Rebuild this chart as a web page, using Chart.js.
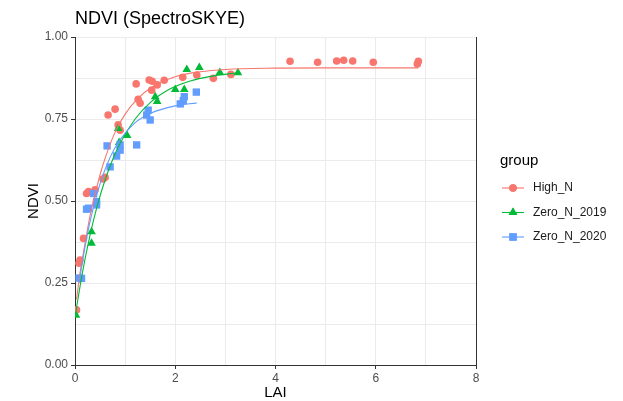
<!DOCTYPE html>
<html>
<head>
<meta charset="utf-8">
<script src="https://cdn.jsdelivr.net/npm/chart.js@4/dist/chart.umd.min.js"></script>
<style>
  html, body { margin: 0; padding: 0; background: #fff; }
  #wrap { width: 623px; height: 401px; }
</style>
</head>
<body>
<div id="wrap"><canvas id="ndvi" width="623" height="401"></canvas></div>
<script>
// NDVI vs LAI, three groups with fitted curves

const groups = ['High_N', 'Zero_N_2019', 'Zero_N_2020'];
const groupColors = ['#F8766D', '#00BA38', '#619CFF'];
const groupShapes = ['circle', 'triangle', 'rect'];

// observed points (LAI, NDVI)
const highLAI = [0.03, 0.08, 0.10, 0.17, 0.23, 0.27, 0.40, 0.56, 0.60, 0.66, 0.80, 0.86, 0.90,
  1.22, 1.26, 1.30, 1.48, 1.53, 1.54, 1.64, 1.78, 2.15, 2.43, 2.76, 3.11,
  4.29, 4.84, 5.22, 5.36, 5.54, 5.95, 6.83, 6.85];
const highNDVI = [0.168, 0.31, 0.32, 0.386, 0.523, 0.529, 0.534, 0.567, 0.572, 0.762, 0.78, 0.732, 0.716,
  0.857, 0.81, 0.798, 0.869, 0.838, 0.865, 0.854, 0.868, 0.877, 0.884, 0.874, 0.886,
  0.926, 0.923, 0.927, 0.929, 0.927, 0.923, 0.918, 0.926];

const zero19LAI = [0.02, 0.33, 0.33, 0.86, 0.88, 1.04, 1.60, 1.64, 2.00, 2.18, 2.23, 2.48, 2.89, 3.25];
const zero19NDVI = [0.152, 0.406, 0.371, 0.721, 0.678, 0.70, 0.818, 0.803, 0.84, 0.84, 0.901, 0.907, 0.892, 0.891];

const zero20LAI = [0.08, 0.13, 0.23, 0.27, 0.37, 0.43, 0.43, 0.64, 0.70, 0.83, 0.90, 0.90, 1.23,
  1.43, 1.46, 1.50, 2.10, 2.16, 2.18, 2.42];
const zero20NDVI = [0.265, 0.264, 0.475, 0.478, 0.523, 0.498, 0.488, 0.668, 0.604, 0.637, 0.655, 0.671, 0.671,
  0.762, 0.777, 0.747, 0.796, 0.806, 0.818, 0.832];

// fitted curves
const highFitLAI = [0.03, 0.1, 0.2, 0.3, 0.4, 0.5, 0.6, 0.8, 1.0, 1.25, 1.5, 2.0, 2.5, 3.0, 4.0, 5.0, 6.85];
const highFitNDVI = [0.20, 0.28, 0.37, 0.455, 0.52, 0.58, 0.63, 0.71, 0.765, 0.812, 0.844, 0.879, 0.894, 0.901, 0.905, 0.906, 0.906];

const zero19FitLAI = [0.02, 0.15, 0.3, 0.45, 0.6, 0.75, 0.9, 1.2, 1.5, 1.9, 2.3, 2.7, 3.25];
const zero19FitNDVI = [0.165, 0.283, 0.396, 0.489, 0.564, 0.626, 0.676, 0.75, 0.80, 0.842, 0.866, 0.88, 0.891];

const zero20FitLAI = [0.08, 0.2, 0.3, 0.5, 0.7, 0.9, 1.2, 1.5, 2.0, 2.43];
const zero20FitNDVI = [0.25, 0.36, 0.437, 0.553, 0.633, 0.687, 0.739, 0.767, 0.79, 0.799];

const FONT = "'Liberation Sans', Arial, sans-serif";

function pairs(xs, ys) {
  return xs.map((x, i) => ({ x, y: ys[i] }));
}

function fitSet(xs, ys, idx) {
  return {
    label: groups[idx] + ' fit',
    data: pairs(xs, ys),
    showLine: true,
    borderColor: groupColors[idx],
    borderWidth: 1.1,
    pointRadius: 0,
    tension: 0.4,
    cubicInterpolationMode: 'monotone'
  };
}

function pointSet(xs, ys, idx, r) {
  return {
    label: groups[idx],
    data: pairs(xs, ys),
    showLine: false,
    pointStyle: groupShapes[idx],
    pointRadius: r,
    pointBorderWidth: 0,
    pointBackgroundColor: groupColors[idx],
    pointBorderColor: groupColors[idx]
  };
}

// title, legend and right border drawn on the canvas
const extras = {
  id: 'extras',
  afterDraw(chart) {
    const ctx = chart.ctx;
    const area = chart.chartArea;
    ctx.save();
    ctx.strokeStyle = '#333333';
    ctx.lineWidth = 1;
    ctx.beginPath();
    ctx.moveTo(area.right + 0.5, area.top);
    ctx.lineTo(area.right + 0.5, area.bottom + 4);
    ctx.stroke();

    ctx.fillStyle = '#000';
    ctx.textBaseline = 'middle';
    ctx.textAlign = 'left';
    ctx.font = '18px ' + FONT;
    ctx.fillText('NDVI (SpectroSKYE)', 75, 19);

    ctx.font = '15px ' + FONT;
    ctx.fillText('group', 500, 161);

    const ys = [188, 212.5, 237];
    const sizes = [3.8, 5, 5.2];
    groups.forEach((g, i) => {
      const y = ys[i];
      ctx.strokeStyle = groupColors[i];
      ctx.lineWidth = 1.1;
      ctx.beginPath();
      ctx.moveTo(502, y);
      ctx.lineTo(524, y);
      ctx.stroke();
      ctx.fillStyle = groupColors[i];
      Chart.helpers.drawPoint(ctx, { pointStyle: groupShapes[i], radius: sizes[i], borderWidth: 0 }, 513, y);
      ctx.fill();
      ctx.fillStyle = '#1a1a1a';
      ctx.font = '12px ' + FONT;
      ctx.fillText(g, 533, y);
    });
    ctx.restore();
  }
};

new Chart(document.getElementById('ndvi'), {
  type: 'scatter',
  data: {
    datasets: [
      fitSet(zero20FitLAI, zero20FitNDVI, 2),
      fitSet(zero19FitLAI, zero19FitNDVI, 1),
      fitSet(highFitLAI, highFitNDVI, 0),
      pointSet(zero20LAI, zero20NDVI, 2, 5.2),
      pointSet(zero19LAI, zero19NDVI, 1, 5),
      pointSet(highLAI, highNDVI, 0, 3.8)
    ]
  },
  options: {
    responsive: false,
    animation: false,
    devicePixelRatio: 1,
    layout: { padding: { top: 37, right: 147, bottom: 0, left: 0 } },
    plugins: { legend: { display: false }, tooltip: { enabled: false } },
    scales: {
      x: {
        type: 'linear', min: 0, max: 8,
        afterFit(scale) { scale.height = 36; },
        ticks: {
          stepSize: 1, color: '#4d4d4d', padding: 2, maxRotation: 0,
          font: { family: FONT, size: 12 },
          callback: v => (v % 2 === 0 ? String(v) : '')
        },
        grid: {
          color: '#ebebeb', lineWidth: 1, tickLength: 4,
          tickColor: c => (c.tick && c.tick.value % 2 === 0 ? '#333333' : 'rgba(0,0,0,0)')
        },
        border: { color: '#333333', width: 1 },
        title: {
          display: true, text: 'LAI', color: '#000',
          font: { family: FONT, size: 15 }, padding: { top: 0, bottom: -1 }
        }
      },
      y: {
        type: 'linear', min: 0, max: 1,
        afterFit(scale) { scale.width = 75; },
        ticks: {
          stepSize: 0.125, color: '#4d4d4d', padding: 3,
          font: { family: FONT, size: 12 },
          callback: v => (Math.abs(v * 4 - Math.round(v * 4)) < 1e-6 ? v.toFixed(2) : '')
        },
        grid: {
          color: '#ebebeb', lineWidth: 1, tickLength: 4,
          tickColor: c => (c.tick && Math.abs(c.tick.value * 4 - Math.round(c.tick.value * 4)) < 1e-6 ? '#333333' : 'rgba(0,0,0,0)')
        },
        border: { color: '#333333', width: 1 },
        title: {
          display: true, text: 'NDVI', color: '#000',
          font: { family: FONT, size: 15 }, padding: { top: 25, bottom: 0 }
        }
      }
    }
  },
  plugins: [extras]
});
</script>
</body>
</html>
